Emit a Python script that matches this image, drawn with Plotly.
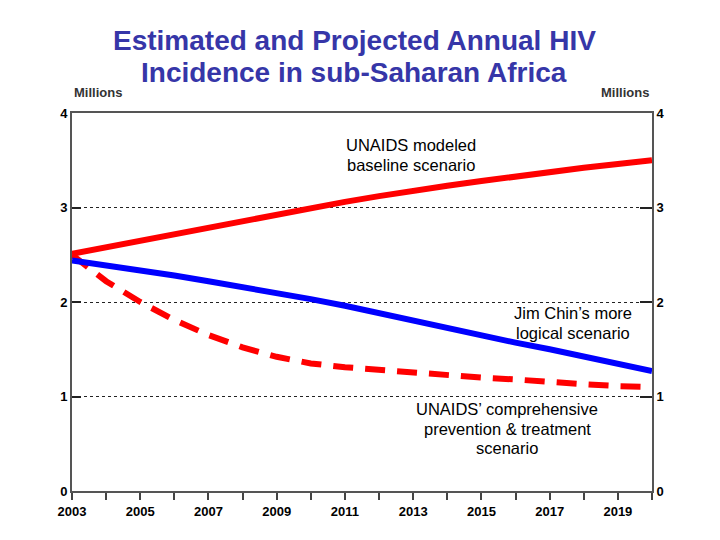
import plotly.graph_objects as go

years = list(range(2003, 2021))
baseline = [2.51, 2.58, 2.65, 2.72, 2.79, 2.86, 2.93, 3.00, 3.06, 3.12, 3.18, 3.23, 3.28, 3.33, 3.38, 3.42, 3.46, 3.50]
chin = [2.44, 2.39, 2.33, 2.28, 2.22, 2.16, 2.10, 2.03, 1.96, 1.88, 1.80, 1.72, 1.64, 1.57, 1.50, 1.42, 1.35, 1.27]
comprehensive = [2.50, 2.22, 2.00, 1.81, 1.65, 1.52, 1.42, 1.35, 1.31, 1.28, 1.25, 1.22, 1.20, 1.18, 1.15, 1.13, 1.11, 1.10]
x_tick_labels = [str(y) for y in range(2003, 2020, 2)]
y_ticks = [0, 1, 2, 3, 4]

# the page body adds an 8px offset; compensate
OFF = 8
W, H = 720, 540
L, T = 72 - OFF, 113 - OFF
R, B = W - (652 - OFF), H - (491 - OFF)

fig = go.Figure()
fig.add_trace(go.Scatter(x=years, y=comprehensive, mode="lines",
                         line=dict(color="#ff0000", width=6, dash="20px,12px"), showlegend=False))
fig.add_trace(go.Scatter(x=years, y=chin, mode="lines",
                         line=dict(color="#0000ff", width=6), showlegend=False))
fig.add_trace(go.Scatter(x=years, y=baseline, mode="lines",
                         line=dict(color="#ff0000", width=6), showlegend=False))
fig.add_trace(go.Scatter(x=[years[0]], y=[0], yaxis="y2", mode="markers",
                         marker=dict(opacity=0), showlegend=False, hoverinfo="skip"))

tickfont = dict(family="Liberation Sans, Arial", size=13, color="black")

fig.update_layout(
    width=W, height=H,
    margin=dict(l=L, r=R, t=T, b=B, autoexpand=False),
    paper_bgcolor="white", plot_bgcolor="white",
    xaxis=dict(range=[2003, 2020], tickmode="array", automargin=False,
               tickvals=[int(t) for t in x_tick_labels], ticktext=[f"<b>{t}</b>" for t in x_tick_labels],
               ticks="outside", ticklen=7, tickwidth=2, tickcolor="#444",
               minor=dict(dtick=1, ticks="outside", ticklen=7, tickwidth=2, tickcolor="#444", tick0=2003),
               showline=True, linecolor="#555", linewidth=2, mirror=True,
               showgrid=False, zeroline=False, tickfont=tickfont),
    yaxis=dict(range=[0, 4], tickvals=y_ticks, ticktext=[f"<b>{t}</b>" for t in y_ticks], automargin=False,
               ticks="inside", ticklen=9, tickwidth=1.5, tickcolor="#222",
               showline=True, linecolor="#555", linewidth=2,
               showgrid=True, gridcolor="#222", griddash="dot", gridwidth=1.2,
               zeroline=False, tickfont=tickfont),
    yaxis2=dict(range=[0, 4], tickvals=y_ticks, ticktext=[f"<b>{t}</b>" for t in y_ticks], automargin=False,
                overlaying="y", side="right",
                ticks="inside", ticklen=12, tickwidth=1.5, tickcolor="#222",
                showline=True, linecolor="#555", linewidth=2,
                showgrid=False, zeroline=False, tickfont=tickfont),
)


def to_paper(px, py):
    # px, py are screenshot pixel coordinates
    px -= OFF
    py -= OFF
    return (px - L) / (W - L - R), (H - B - py) / (H - T - B)


def add_text(text, px, py, size, color, bold=False):
    xp, yp = to_paper(px, py)
    fig.add_annotation(x=xp, y=yp, xref="paper", yref="paper", xanchor="center", yanchor="middle",
                       text=f"<b>{text}</b>" if bold else text, showarrow=False, align="center",
                       font=dict(family="Liberation Sans, Arial", size=size, color=color))


title_lines = ["Estimated and Projected Annual HIV", "Incidence in sub-Saharan Africa"]
add_text(title_lines[0], 354, 40, 28, "#3636a8", bold=True)
add_text(title_lines[1], 354, 72, 28, "#3636a8", bold=True)
add_text("Millions", 98, 93, 13, "#333", bold=True)
add_text("Millions", 625, 93, 13, "#333", bold=True)

ann_size = 16.5
labels = [
    (["UNAIDS modeled", "baseline scenario"], 411, 145),
    (["Jim Chin’s more", "logical scenario"], 573, 313),
    (["UNAIDS’ comprehensive", "prevention &amp; treatment", "scenario"], 507, 409),
]
for lines, px, py0 in labels:
    for i, line in enumerate(lines):
        add_text(line, px, py0 + 19.5 * i, ann_size, "black")

fig.write_html("out.html")
